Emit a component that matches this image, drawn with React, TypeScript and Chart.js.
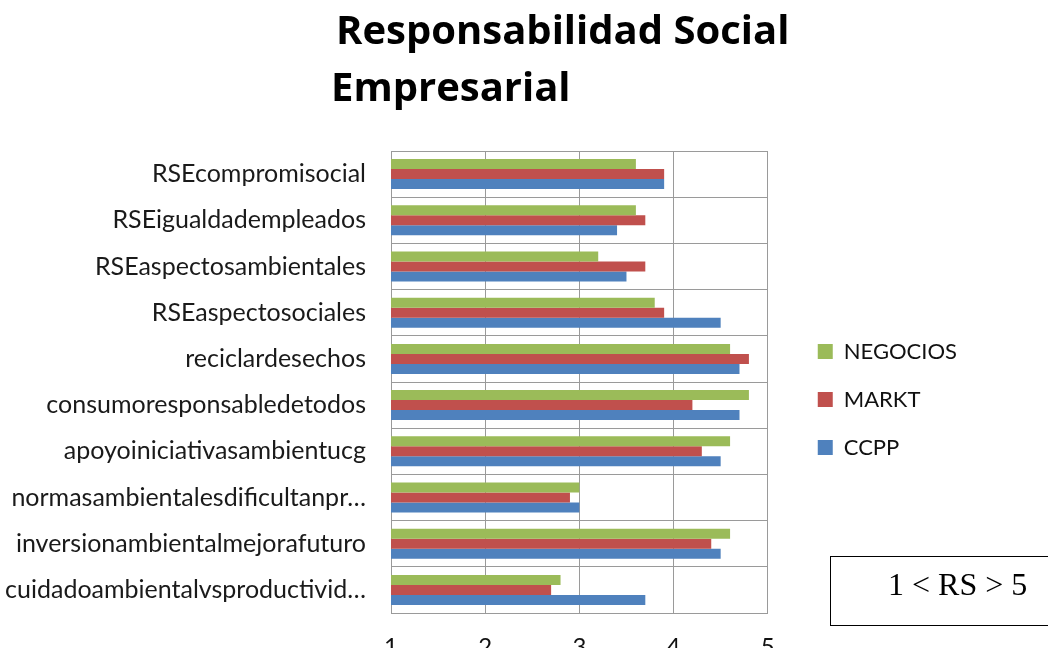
import React, { useEffect, useRef } from "react";
import { Chart, registerables } from "chart.js";

Chart.register(...registerables);

const categories = [
  "RSEcompromisocial",
  "RSEigualdadempleados",
  "RSEaspectosambientales",
  "RSEaspectosociales",
  "reciclardesechos",
  "consumoresponsabledetodos",
  "apoyoiniciativasambientucg",
  "normasambientalesdificultanpr…",
  "inversionambientalmejorafuturo",
  "cuidadoambientalvsproductivid…",
];

const negocios = [3.6, 3.6, 3.2, 3.8, 4.6, 4.8, 4.6, 3.0, 4.6, 2.8];
const markt = [3.9, 3.7, 3.7, 3.9, 4.8, 4.2, 4.3, 2.9, 4.4, 2.7];
const ccpp = [3.9, 3.4, 3.5, 4.5, 4.7, 4.7, 4.5, 3.0, 4.5, 3.7];

const seriesNames = ["NEGOCIOS", "MARKT", "CCPP"];
const seriesColors = ["#9BBB59", "#C0504D", "#4F81BD"];
const xTickValues = [1, 2, 3, 4, 5];
const xTickLabels = ["1", "2", "3", "4", "5"];

const titleLines = ["Responsabilidad Social", "Empresarial"];
const noteText = "1 < RS > 5";

const GRID = "#9a9a9a";
const PLOT_LEFT = 391;
const PLOT_RIGHT = 768;
const LEFT_PAD = -300; // widens the room the layout gives to side boxes (legend)

export default function App() {
  const canvasRef = useRef<HTMLCanvasElement | null>(null);

  useEffect(() => {
    const canvas = canvasRef.current;
    if (!canvas) return;
    const values = [negocios, markt, ccpp];
    const chart = new Chart(canvas, {
      type: "bar",
      data: {
        labels: categories,
        datasets: seriesNames.map((name, i) => ({
          label: name,
          data: values[i],
          backgroundColor: seriesColors[i],
          borderWidth: 0,
          categoryPercentage: 0.65,
          barPercentage: 1,
        })),
      },
      options: {
        indexAxis: "y",
        responsive: false,
        animation: false,
        devicePixelRatio: 1,
        layout: { padding: { top: 151, left: LEFT_PAD, right: 81, bottom: 7 } },
        plugins: {
          title: { display: false },
          tooltip: { enabled: false },
          legend: {
            position: "right",
            align: "center",
            labels: {
              font: { family: "Lato, sans-serif", size: 22 },
              color: "#111",
              boxWidth: 15,
              boxHeight: 15,
              padding: 26,
            },
          },
        },
        scales: {
          x: {
            type: "linear",
            min: xTickValues[0],
            max: xTickValues[xTickValues.length - 1],
            ticks: {
              stepSize: 1,
              font: { family: "Lato, sans-serif", size: 24 },
              color: "#111",
              padding: 20,
              callback: (v: any) => {
                const idx = xTickValues.indexOf(Number(v));
                return idx >= 0 ? xTickLabels[idx] : "";
              },
            },
            grid: { color: GRID, lineWidth: 1, drawTicks: false },
            border: { color: GRID, width: 1 },
            afterFit: (s: any) => {
              s.height = 35;
            },
          },
          y: {
            type: "category",
            ticks: {
              font: { family: "Lato, sans-serif", size: 25 },
              color: "#1a1a1a",
              padding: 25,
              autoSkip: false,
            },
            grid: { color: GRID, lineWidth: 1, drawTicks: false, offset: true },
            border: { color: GRID, width: 1 },
            afterFit: (s: any) => {
              s.width = PLOT_LEFT - LEFT_PAD;
            },
          },
          gap: {
            type: "linear",
            axis: "y",
            position: "right",
            display: true,
            min: 0,
            max: 1,
            ticks: { display: false },
            grid: { display: false, drawTicks: false },
            border: { display: false },
            afterFit: (s: any) => {
              s.width = 24;
            },
          },
        },
      },
    } as any);
    // keep the plot's right edge where the reference has it
    const diff = PLOT_RIGHT - chart.chartArea.right;
    if (Math.abs(diff) > 0.5) {
      (chart.options as any).layout.padding.right -= diff;
      chart.update();
    }
    return () => chart.destroy();
  }, []);

  const titleStyle: React.CSSProperties = {
    position: "absolute",
    fontFamily: "'Open Sans', sans-serif",
    fontWeight: 700,
    fontSize: 40,
    lineHeight: "40px",
    color: "#000",
    whiteSpace: "nowrap",
  };

  return (
    <div
      style={{
        position: "absolute",
        left: 0,
        top: 0,
        width: 1048,
        height: 655,
        background: "#fff",
        overflow: "hidden",
      }}
    >
      <canvas ref={canvasRef} width={1048} height={655} style={{ display: "block" }} />
      <div style={{ ...titleStyle, left: 336, top: 9 }}>{titleLines[0]}</div>
      <div style={{ ...titleStyle, left: 331, top: 66 }}>{titleLines[1]}</div>
      <div
        style={{
          position: "absolute",
          left: 830,
          top: 556,
          width: 240,
          height: 70,
          border: "1.5px solid #000",
          boxSizing: "border-box",
        }}
      />
      <div
        style={{
          position: "absolute",
          left: 888,
          top: 568,
          fontFamily: "'Liberation Serif', 'Times New Roman', serif",
          fontSize: 32,
          lineHeight: "32px",
          color: "#000",
          whiteSpace: "nowrap",
        }}
      >
        {noteText}
      </div>
    </div>
  );
}
